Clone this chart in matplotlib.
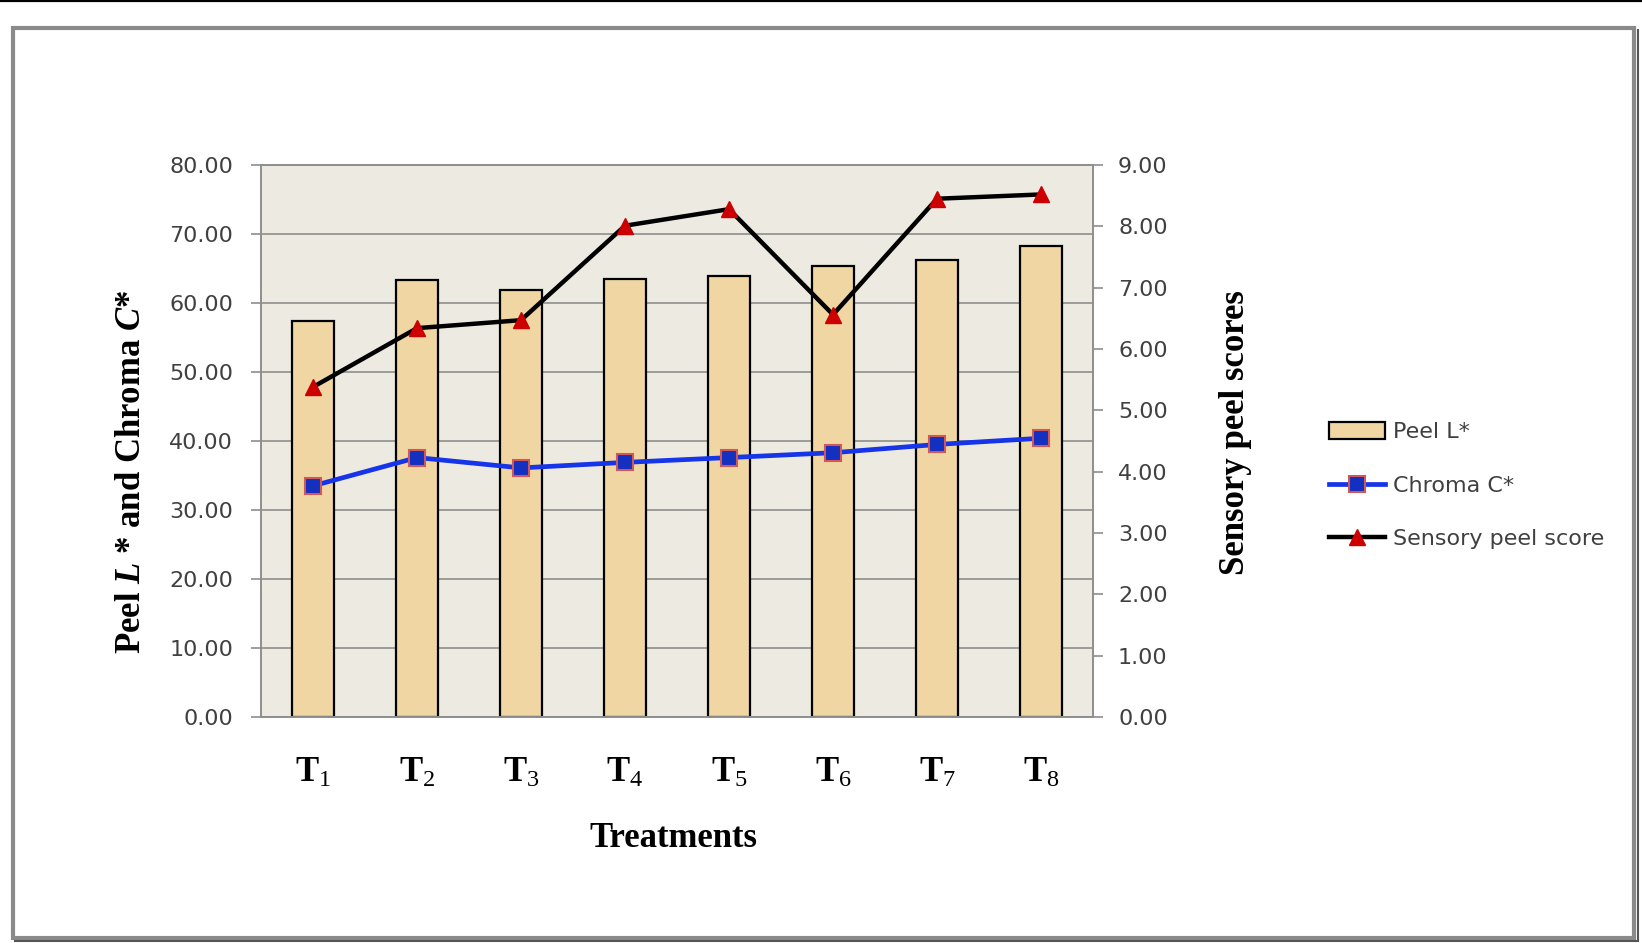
import matplotlib
matplotlib.use("Agg")
import matplotlib.pyplot as plt
from matplotlib.patches import Rectangle
from matplotlib.lines import Line2D

plt.rcParams['font.family'] = ['DejaVu Sans']
plt.rcParams['mathtext.fontset'] = 'custom'
plt.rcParams['mathtext.rm'] = 'Liberation Serif'
plt.rcParams['mathtext.bf'] = 'Liberation Serif:bold'
plt.rcParams['mathtext.it'] = 'Liberation Serif:italic:bold'

# ---- data ----
treatments = ['1', '2', '3', '4', '5', '6', '7', '8']
peel_L = [57.4, 63.3, 61.9, 63.5, 63.9, 65.3, 66.2, 68.2]
chroma_C = [33.5, 37.6, 36.1, 36.9, 37.6, 38.3, 39.5, 40.4]
sensory = [5.38, 6.34, 6.47, 8.01, 8.28, 6.56, 8.45, 8.52]
left_ticks = [0, 10, 20, 30, 40, 50, 60, 70, 80]
right_ticks = [0, 1, 2, 3, 4, 5, 6, 7, 8, 9]

W, H = 1642, 943
fig = plt.figure(figsize=(W / 100, H / 100), dpi=100)

# frame and top rule
fig.add_artist(Line2D([0, 1], [1 - 1.2 / H, 1 - 1.2 / H], color='black', lw=1.6,
                      transform=fig.transFigure))
fig.add_artist(Rectangle((13 / W, 1 - 938 / H), (1634 - 13) / W, (938 - 28) / H,
                         transform=fig.transFigure, facecolor='none',
                         edgecolor='#8a8a8a', lw=3))
fig.add_artist(Line2D([1637.5 / W, 1637.5 / W], [1 - 940 / H, 1 - 30 / H], color='#555555',
                      lw=1.5, transform=fig.transFigure))
fig.add_artist(Line2D([15 / W, 1638 / W], [1 - 940.5 / H, 1 - 940.5 / H], color='#555555',
                      lw=1.5, transform=fig.transFigure))

L, R, T, B = 261, 1093, 165, 717
ax = fig.add_axes([L / W, 1 - B / H, (R - L) / W, (B - T) / H])
ax2 = ax.twinx()

x = list(range(len(treatments)))
ax.set_facecolor('#EDEBE1')
ax.set_axisbelow(True)
ax.yaxis.grid(True, color='#8e8e8e', lw=1.2)
bars = ax.bar(x, peel_L, width=0.4, color='#F0D6A2', edgecolor='black', lw=1.6, zorder=2)
ax.plot(x, chroma_C, color='#1634E8', lw=3.4, marker='s', markersize=12,
        markerfacecolor='#1430C0', markeredgecolor='#D05858', markeredgewidth=1.5, zorder=4)
ax2.plot(x, sensory, color='black', lw=3.2, marker='^', markersize=12,
         markerfacecolor='#CC0000', markeredgecolor='#CC0000', zorder=4)

ax.set_xlim(-0.5, len(treatments) - 0.5)
ax.set_ylim(0, 80)
ax2.set_ylim(0, 9)
ax.set_yticks(left_ticks)
ax.set_yticklabels([f'{v:.2f}' for v in left_ticks])
ax2.set_yticks(right_ticks)
ax2.set_yticklabels([f'{v:.2f}' for v in right_ticks])
ax.set_xticks(x)
ax.set_xticklabels([r'$\mathbf{T}_{%s}$' % t for t in treatments], fontsize=25, color='black')

for a in (ax, ax2):
    for s in a.spines.values():
        s.set_color('#8e8e8e')
        s.set_linewidth(1.2)
ax.tick_params(axis='y', length=7, width=1.2, color='#8e8e8e', labelsize=16,
               labelcolor='#404040', pad=13)
ax2.tick_params(axis='y', length=7, width=1.2, color='#8e8e8e', labelsize=16,
                labelcolor='#404040', pad=11)
ax.tick_params(axis='x', length=0, pad=27)

fig.text(131 / W, 1 - 472 / H, r'Peel $L$ * and Chroma $C$*', rotation=90,
         ha='center', va='center', fontsize=25, fontweight='bold',
         family='Liberation Serif')
fig.text(1235 / W, 1 - 433 / H, 'Sensory peel scores', rotation=90,
         ha='center', va='center', fontsize=25, fontweight='bold',
         family='Liberation Serif')
fig.text(673 / W, 1 - 847 / H, 'Treatments', ha='center', va='baseline',
         fontsize=25, fontweight='bold', family='Liberation Serif')

handles = [
    Rectangle((0, 0), 1, 1, facecolor='#F0D6A2', edgecolor='black', lw=1.6),
    Line2D([], [], color='#1634E8', lw=3.4, marker='s', markersize=12,
           markerfacecolor='#1430C0', markeredgecolor='#D05858', markeredgewidth=1.5),
    Line2D([], [], color='black', lw=3.2, marker='^', markersize=12,
           markerfacecolor='#CC0000', markeredgecolor='#CC0000'),
]
fig.legend(handles, ['Peel L*', 'Chroma C*', 'Sensory peel score'],
           loc='upper left', bbox_to_anchor=(1329 / W, 1 - 422 / H),
           frameon=False, fontsize=16, handlelength=2.5, handleheight=0.8,
           handletextpad=0.4, labelspacing=1.5, borderpad=0, borderaxespad=0,
           labelcolor='#404040')

fig.savefig('out.png', dpi=100, facecolor='white')
